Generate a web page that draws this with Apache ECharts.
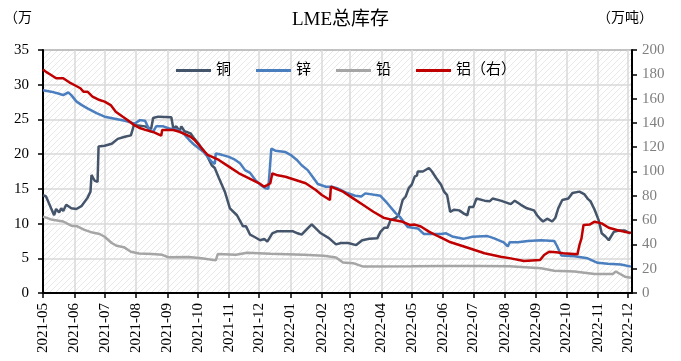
<!DOCTYPE html>
<html>
<head>
<meta charset="utf-8">
<script src="https://cdn.jsdelivr.net/npm/echarts@6/dist/echarts.min.js"></script>
<style>
  html, body { margin: 0; padding: 0; background: #fff; }
  #myChart1 { width: 681px; height: 361px; }
</style>
</head>
<body>
<div id="myChart1"></div>
<script>
// LME stocks, [date, value]; copper/zinc/lead in 万吨 (left), aluminium on right axis
var copper = [
    ['2021-05-01', 14.1], ['2021-05-04', 13.9], ['2021-05-09', 12.2], ['2021-05-12', 11.2], ['2021-05-14', 12.1],
    ['2021-05-17', 11.6], ['2021-05-19', 12.2], ['2021-05-21', 11.8], ['2021-05-24', 12.7], ['2021-05-29', 12.2],
    ['2021-06-03', 12.1], ['2021-06-08', 12.5], ['2021-06-14', 13.7], ['2021-06-17', 14.6], ['2021-06-18', 17.0],
    ['2021-06-21', 16.2], ['2021-06-24', 16.0], ['2021-06-25', 21.1], ['2021-07-01', 21.2], ['2021-07-08', 21.5],
    ['2021-07-14', 22.2], ['2021-07-21', 22.5], ['2021-07-27', 22.7], ['2021-07-30', 24.2], ['2021-08-10', 24.0],
    ['2021-08-16', 23.6], ['2021-08-18', 25.2], ['2021-08-23', 25.4], ['2021-09-05', 25.3], ['2021-09-07', 23.7],
    ['2021-09-10', 24.0], ['2021-09-13', 23.3], ['2021-09-15', 24.0], ['2021-09-18', 23.3], ['2021-09-24', 23.0],
    ['2021-09-28', 22.2], ['2021-10-03', 21.3], ['2021-10-10', 19.9], ['2021-10-15', 18.4], ['2021-10-18', 18.0],
    ['2021-10-22', 16.6], ['2021-10-28', 14.6], ['2021-11-02', 12.2], ['2021-11-09', 11.2], ['2021-11-15', 9.6],
    ['2021-11-18', 9.6], ['2021-11-22', 8.4], ['2021-11-26', 8.1], ['2021-12-02', 7.6], ['2021-12-06', 7.8],
    ['2021-12-09', 7.4], ['2021-12-14', 8.6], ['2021-12-19', 8.9], ['2022-01-03', 8.9], ['2022-01-08', 8.6],
    ['2022-01-12', 8.4], ['2022-01-18', 9.3], ['2022-01-22', 9.9], ['2022-01-26', 9.3], ['2022-01-31', 8.6],
    ['2022-02-08', 7.9], ['2022-02-15', 7.0], ['2022-02-20', 7.2], ['2022-02-27', 7.2], ['2022-03-07', 6.9],
    ['2022-03-13', 7.6], ['2022-03-20', 7.8], ['2022-03-28', 7.9], ['2022-03-31', 8.8], ['2022-04-04', 9.4],
    ['2022-04-07', 9.4], ['2022-04-10', 10.5], ['2022-04-15', 10.8], ['2022-04-18', 11.2], ['2022-04-22', 13.4],
    ['2022-04-25', 13.9], ['2022-04-28', 15.1], ['2022-05-01', 15.6], ['2022-05-04', 16.8], ['2022-05-06', 16.9],
    ['2022-05-07', 17.5], ['2022-05-12', 17.5], ['2022-05-18', 18.0], ['2022-05-21', 17.5], ['2022-05-25', 16.6],
    ['2022-05-30', 15.6], ['2022-06-02', 14.6], ['2022-06-05', 14.1], ['2022-06-08', 11.7], ['2022-06-12', 12.0],
    ['2022-06-17', 11.9], ['2022-06-22', 11.4], ['2022-06-25', 11.2], ['2022-06-27', 12.4], ['2022-07-01', 12.4],
    ['2022-07-04', 13.6], ['2022-07-12', 13.3], ['2022-07-17', 13.2], ['2022-07-20', 13.6], ['2022-07-28', 13.3],
    ['2022-08-07', 12.8], ['2022-08-11', 13.3], ['2022-08-17', 12.7], ['2022-08-23', 12.2], ['2022-08-30', 11.9],
    ['2022-09-02', 11.2], ['2022-09-05', 10.7], ['2022-09-08', 10.3], ['2022-09-12', 10.7], ['2022-09-17', 10.3],
    ['2022-09-20', 10.8], ['2022-09-23', 12.2], ['2022-09-27', 13.4], ['2022-10-03', 13.6], ['2022-10-07', 14.4],
    ['2022-10-14', 14.6], ['2022-10-19', 14.2], ['2022-10-22', 13.6], ['2022-10-25', 13.2], ['2022-10-29', 12.0],
    ['2022-11-02', 10.5], ['2022-11-05', 8.6], ['2022-11-09', 8.1], ['2022-11-12', 7.6], ['2022-11-17', 8.8],
    ['2022-11-22', 9.0], ['2022-11-28', 9.0], ['2022-12-03', 8.6]
];
var zinc = [
    ['2021-05-01', 29.2], ['2021-05-09', 29.0], ['2021-05-17', 28.7], ['2021-05-21', 28.5], ['2021-05-26', 28.9],
    ['2021-05-29', 28.5], ['2021-06-03', 27.6], ['2021-06-08', 27.1], ['2021-06-14', 26.6], ['2021-06-23', 25.9],
    ['2021-07-01', 25.4], ['2021-07-11', 25.1], ['2021-07-21', 24.8], ['2021-07-31', 24.4], ['2021-08-05', 24.9],
    ['2021-08-10', 24.8], ['2021-08-15', 23.3], ['2021-08-18', 23.2], ['2021-08-21', 24.0], ['2021-08-28', 24.0],
    ['2021-09-03', 23.7], ['2021-09-11', 23.5], ['2021-09-17', 23.0], ['2021-09-23', 22.0], ['2021-09-28', 21.3],
    ['2021-10-07', 20.3], ['2021-10-15', 18.9], ['2021-10-18', 18.6], ['2021-10-19', 20.1], ['2021-10-25', 19.9],
    ['2021-11-01', 19.6], ['2021-11-07', 19.2], ['2021-11-12', 18.7], ['2021-11-17', 17.7], ['2021-11-22', 17.3],
    ['2021-11-27', 16.3], ['2021-12-02', 15.6], ['2021-12-07', 15.1], ['2021-12-10', 15.0], ['2021-12-13', 20.8],
    ['2021-12-17', 20.5], ['2021-12-27', 20.3], ['2022-01-01', 19.9], ['2022-01-07', 19.2], ['2022-01-12', 18.4],
    ['2022-01-18', 17.7], ['2022-01-23', 16.7], ['2022-01-28', 15.7], ['2022-02-05', 15.3], ['2022-02-11', 15.3],
    ['2022-02-16', 15.1], ['2022-02-26', 14.4], ['2022-03-06', 14.0], ['2022-03-12', 13.9], ['2022-03-16', 14.35],
    ['2022-03-31', 14.0], ['2022-04-07', 12.9], ['2022-04-15', 11.5], ['2022-04-19', 11.0], ['2022-04-27', 9.5],
    ['2022-05-07', 9.3], ['2022-05-13', 8.5], ['2022-05-30', 8.5], ['2022-06-04', 8.6], ['2022-06-11', 8.1],
    ['2022-06-21', 7.8], ['2022-06-30', 8.1], ['2022-07-15', 8.2], ['2022-07-21', 7.9], ['2022-07-31', 7.3],
    ['2022-08-04', 6.7], ['2022-08-06', 7.3], ['2022-08-14', 7.3], ['2022-08-24', 7.5], ['2022-09-06', 7.6],
    ['2022-09-19', 7.5], ['2022-09-22', 6.7], ['2022-09-26', 5.4], ['2022-10-09', 5.3], ['2022-10-22', 5.0],
    ['2022-11-01', 4.35], ['2022-11-11', 4.2], ['2022-11-24', 4.1], ['2022-12-04', 3.8]
];
var lead = [
    ['2021-05-01', 11.0], ['2021-05-09', 10.6], ['2021-05-21', 10.3], ['2021-05-29', 9.7], ['2021-06-04', 9.6],
    ['2021-06-11', 9.1], ['2021-06-19', 8.7], ['2021-06-26', 8.5], ['2021-07-01', 8.1], ['2021-07-08', 7.2],
    ['2021-07-13', 6.8], ['2021-07-20', 6.6], ['2021-07-27', 5.95], ['2021-08-04', 5.7], ['2021-08-17', 5.6],
    ['2021-08-27', 5.5], ['2021-09-02', 5.15], ['2021-09-22', 5.2], ['2021-10-05', 5.0], ['2021-10-19', 4.7],
    ['2021-10-21', 5.6], ['2021-11-08', 5.5], ['2021-11-19', 5.8], ['2021-12-12', 5.65], ['2022-01-14', 5.5],
    ['2022-02-03', 5.35], ['2022-02-15', 5.1], ['2022-02-22', 4.4], ['2022-03-04', 4.3], ['2022-03-14', 3.8],
    ['2022-05-01', 3.85], ['2022-06-01', 3.9], ['2022-07-07', 3.9], ['2022-08-06', 3.85], ['2022-09-06', 3.55],
    ['2022-09-19', 3.2], ['2022-10-09', 3.1], ['2022-10-29', 2.75], ['2022-11-16', 2.75], ['2022-11-19', 3.1],
    ['2022-11-22', 2.85], ['2022-11-28', 2.35], ['2022-12-04', 2.2]
];
var aluminium = [
    ['2021-05-01', 184], ['2021-05-04', 182], ['2021-05-09', 179.4], ['2021-05-14', 176.7], ['2021-05-21', 176.7],
    ['2021-05-27', 173.4], ['2021-06-01', 171.2], ['2021-06-07', 168.5], ['2021-06-10', 165.7], ['2021-06-14', 165.7],
    ['2021-06-19', 161.6], ['2021-06-26', 158.8], ['2021-07-01', 157.5], ['2021-07-07', 154.7], ['2021-07-12', 149.2],
    ['2021-07-19', 145.1], ['2021-07-25', 141.6], ['2021-07-30', 138.3], ['2021-08-04', 136.0], ['2021-08-11', 134.1],
    ['2021-08-19', 132.2], ['2021-08-26', 129.5], ['2021-08-27', 134.1], ['2021-09-07', 134.1], ['2021-09-13', 132.7],
    ['2021-09-19', 130.5], ['2021-09-24', 128.6], ['2021-09-28', 125.9], ['2021-10-05', 119.1], ['2021-10-11', 113.6],
    ['2021-10-22', 109.5], ['2021-11-01', 104], ['2021-11-11', 98.5], ['2021-11-21', 94.4], ['2021-12-01', 90.3],
    ['2021-12-06', 87.5], ['2021-12-09', 88.8], ['2021-12-12', 90.3], ['2021-12-14', 98.5], ['2021-12-18', 97.2],
    ['2021-12-27', 95.7], ['2022-01-06', 93], ['2022-01-16', 90.3], ['2022-01-26', 84.8], ['2022-02-01', 80.7],
    ['2022-02-09', 76.5], ['2022-02-10', 87.5], ['2022-02-14', 86.1], ['2022-02-22', 83.4], ['2022-03-04', 77.9],
    ['2022-03-14', 72.4], ['2022-03-24', 66.9], ['2022-04-03', 62], ['2022-04-13', 60], ['2022-04-22', 58.6],
    ['2022-04-29', 56], ['2022-05-04', 56.3], ['2022-05-10', 54.7], ['2022-05-18', 50.5], ['2022-05-28', 46.3],
    ['2022-06-07', 42.2], ['2022-06-17', 39.5], ['2022-06-27', 36.8], ['2022-07-12', 32.7], ['2022-07-28', 29.9],
    ['2022-08-07', 28.5], ['2022-08-20', 26.3], ['2022-09-05', 27.1], ['2022-09-09', 31.3], ['2022-09-14', 34],
    ['2022-09-21', 33.5], ['2022-09-28', 32.7], ['2022-10-12', 31.8], ['2022-10-14', 39.5], ['2022-10-16', 45],
    ['2022-10-18', 56], ['2022-10-24', 56.3], ['2022-10-29', 58.7], ['2022-11-05', 57.3], ['2022-11-12', 53.7],
    ['2022-11-20', 51.8], ['2022-11-30', 49.9], ['2022-12-04', 49.5]
];
var seriesNames = ['铜', '锌', '铅', '铝（右）'];
var seriesColors = ['#44546A', '#4A7EBF', '#A5A5A5', '#C00000'];

var serif = 'Liberation Serif, Noto Sans CJK SC, serif';
var DAY = 24 * 3600 * 1000;

// faint diagonal hatch of the plot area
var hatch = document.createElement('canvas');
hatch.width = 6;
hatch.height = 6;
var hctx = hatch.getContext('2d');
hctx.strokeStyle = '#e8e8e8';
hctx.lineWidth = 1;
hctx.beginPath();
hctx.moveTo(0, 6); hctx.lineTo(6, 0);
hctx.moveTo(-1, 1); hctx.lineTo(1, -1);
hctx.moveTo(5, 7); hctx.lineTo(7, 5);
hctx.stroke();

var myChart = echarts.init(document.getElementById('myChart1'));
var option = {
    animation: false,
    title: {
        text: 'LME总库存',
        left: 'center',
        top: 6,
        textStyle: { fontFamily: serif, fontSize: 19, fontWeight: 'normal', color: '#000' }
    },
    graphic: [
        { type: 'text', left: 4, top: 10, style: { text: '（万', font: '14px Noto Sans CJK SC', fill: '#000' } },
        { type: 'text', left: 597, top: 10, style: { text: '（万吨）', font: '14px Noto Sans CJK SC', fill: '#000' } }
    ],
    legend: {
        data: seriesNames.map(function (n, i) {
            return { name: n, icon: 'rect', itemStyle: { color: seriesColors[i], opacity: 1 } };
        }),
        left: 171,
        top: 58,
        itemWidth: 35,
        itemHeight: 3,
        itemGap: 25,
        textStyle: { fontFamily: serif, fontSize: 15, color: '#000' }
    },
    grid: {
        left: 43, right: 49, top: 50, bottom: 68,
        show: true,
        borderColor: '#000',
        borderWidth: 1,
        backgroundColor: { image: hatch, repeat: 'repeat' }
    },
    xAxis: {
        type: 'time',
        min: '2021-05-01',
        max: '2022-12-05',
        splitNumber: 20,
        minInterval: 28 * DAY,
        maxInterval: 31 * DAY,
        axisLine: { lineStyle: { color: '#000', width: 2 } },
        axisTick: { show: true, length: 5, lineStyle: { color: '#000', width: 1.5 } },
        axisLabel: {
            rotate: 90,
            formatter: '{yyyy}-{MM}',
            fontFamily: serif,
            fontSize: 15,
            color: '#000',
            margin: 10,
            showMaxLabel: false
        },
        splitLine: { show: true, lineStyle: { color: '#d9d9d9', width: 1.5 } }
    },
    yAxis: [{
        type: 'value',
        min: 0,
        max: 35,
        interval: 5,
        axisLine: { show: true, lineStyle: { color: '#000', width: 2 } },
        axisTick: { show: true, length: 5, lineStyle: { color: '#000', width: 1.5 } },
        axisLabel: { fontFamily: serif, fontSize: 15, color: '#000', margin: 14 },
        splitLine: { show: true, lineStyle: { color: '#d9d9d9', width: 1.5 } }
    }, {
        type: 'value',
        min: 0,
        max: 200,
        interval: 20,
        position: 'right',
        axisLine: { show: true, lineStyle: { color: '#000', width: 2 } },
        axisTick: { show: true, length: 5, lineStyle: { color: '#000', width: 1.5 } },
        axisLabel: { fontFamily: serif, fontSize: 15, color: '#7f7f7f', margin: 10 },
        splitLine: { show: false }
    }],
    series: [copper, zinc, lead, aluminium].map(function (d, i) {
        return {
            name: seriesNames[i],
            type: 'line',
            yAxisIndex: i === 3 ? 1 : 0,
            data: d,
            symbol: 'none',
            symbolSize: 0,
            showSymbol: false,
            itemStyle: { color: seriesColors[i], opacity: 0 },
            lineStyle: { color: seriesColors[i], width: 2.5 }
        };
    })
};
myChart.setOption(option);
</script>
</body>
</html>
